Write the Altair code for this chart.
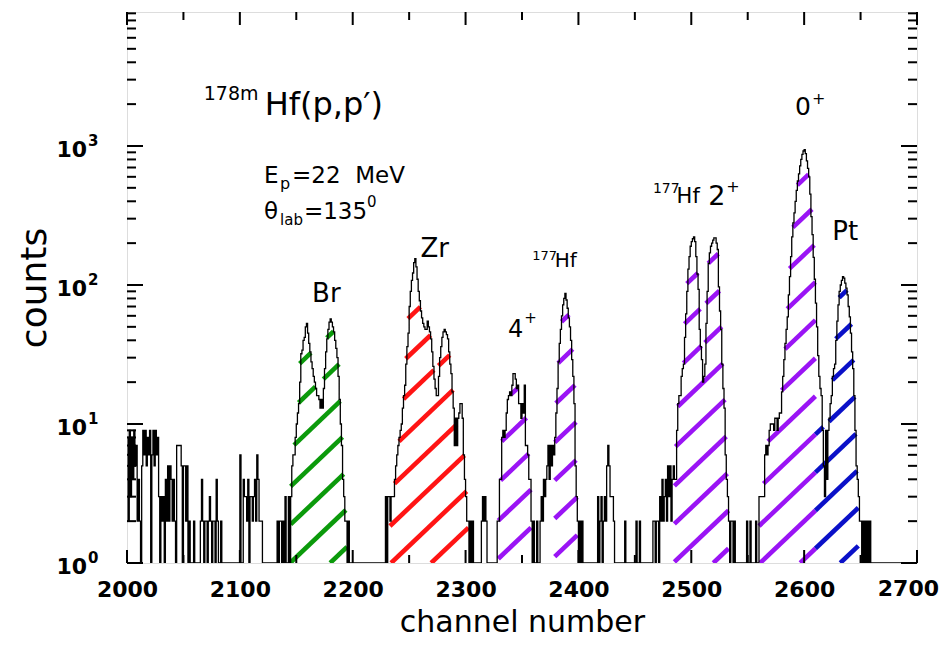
import altair as alt
import pandas as pd
import numpy as np

# ---------------- spectrum: counts per channel (empty channels sit on the 10^0 floor)
noise_start = 2000
noise_counts = [8, 2, 9, 3, 8, 4, 9, 5, 7, 2, 4, 2, 1,
                5, 9, 6, 9, 5, 8, 6, 9, 1, 6, 9, 5, 9, 6, 8,
                3, 1, 3, 2, 3, 1, 4, 2, 5, 2, 5, 4, 2, 4, 2, 1,
                7, 7, 7, 7, 5, 1, 5, 5, 2, 5, 1, 2, 1, 1, 1, 2, 1, 1, 1, 1, 1,
                2, 4, 2, 1, 2, 2, 1, 2, 3, 2, 1, 2, 2, 1, 4, 2, 1, 1, 2,
                1, 1, 1, 1, 1, 1, 1, 1, 1, 1, 1, 1, 1, 1, 1, 1,
                6, 1, 1, 4, 3, 3, 2, 4, 1, 3, 3, 2, 3, 4, 2, 6, 4, 2, 2, 2, 1,
                1, 1, 1, 1, 1, 1, 1, 1, 1, 1, 1, 1,
                2, 1, 2, 2, 1, 2, 1, 3, 1, 1, 3, 1]
br_start = 2145
br_counts = [3, 5, 6, 6, 8, 10, 12, 14, 20, 32, 34, 40, 42, 50, 53, 45, 38, 33, 28, 25,
             22, 20, 18, 16, 16, 15, 13, 15, 13, 18, 25, 33, 41, 48, 54, 57, 54, 50, 46, 40,
             35, 30, 22, 15, 10, 7, 4, 3, 2, 2, 1, 2, 1, 1, 1]
zr_start = 2228
zr_counts = [1, 3, 1, 3, 3, 2, 3, 3, 3, 4, 5, 6, 7, 8, 9, 10, 13, 16, 19, 27,
             36, 45, 70, 90, 108, 122, 145, 155, 135, 110, 90, 77, 65, 58, 53, 50, 48, 48, 55, 50,
             46, 41, 33, 26, 21, 18, 16, 16, 22, 30, 36, 42, 46, 48, 46, 44, 41, 33, 27, 23,
             17, 13, 7, 11, 7, 11, 12, 14, 14, 11, 6, 4, 3, 2, 2, 1, 2, 1, 2, 1]
gap2_start = 2308
gap2_counts = [1, 1, 1, 1, 1, 1, 2, 3, 2, 3, 2, 1, 1, 1, 1, 1, 1, 1, 1, 1, 2]
four_start = 2329
four_counts = [2, 4, 4, 8, 9, 8, 9, 12, 15, 16, 17, 16, 19, 23, 23, 21, 18, 19, 14, 14,
               11, 14, 12, 19, 7, 7, 6, 4, 4, 2, 1, 2, 1, 1]
hf177_start = 2363
hf177_counts = [2, 1, 1, 2, 3, 2, 4, 3, 4, 5, 7, 4, 7, 5, 7, 6, 8, 12, 18, 28,
                38, 48, 60, 72, 80, 87, 78, 68, 58, 50, 40, 29, 22, 14, 5, 3, 2, 1, 2, 1,
                2, 1, 1]
gap3_start = 2406
gap3_counts = [1, 1, 1, 1, 1, 1, 1, 1, 1, 1, 1,
               3, 1, 2, 3, 1, 2, 3, 2, 5, 7, 5, 3, 3, 3, 2,
               1, 1, 1, 1, 1, 1, 1, 1, 1, 2, 1, 1, 1, 1, 1, 1, 1, 1, 1, 2, 1, 1, 2,
               1, 1, 1, 1, 1, 1, 1, 1, 1, 1, 1, 2, 2, 1, 2]
two_start = 2470
two_counts = [2, 1, 3, 2, 4, 2, 3, 4, 2, 5, 3, 5, 2, 4, 5, 4, 4, 9, 14, 16,
              16, 22, 25, 27, 42, 62, 90, 130, 160, 190, 205, 215, 222, 205, 160, 120, 93, 48, 36, 29,
              20, 22, 27, 53, 90, 143, 170, 190, 200, 210, 218, 218, 200, 180, 97, 65, 48, 27, 18, 13,
              6, 4, 3, 2, 1, 2, 2, 1, 2, 1]
gap4_start = 2540
gap4_counts = [1, 1, 1, 1, 1, 1, 1, 1, 1, 2, 1, 1, 2, 1, 1, 1, 1, 2, 1]
zero_start = 2559
zero_counts = [1, 3, 3, 3, 3, 3, 6, 7, 6, 7, 9, 10, 10, 10, 9, 11, 11, 9, 11, 12,
               12, 17, 22, 29, 38, 48, 59, 85, 115, 160, 222, 280, 330, 400, 480, 560, 630, 720, 800, 870,
               920, 940, 880, 780, 690, 600, 450, 310, 230, 158, 110, 74, 50, 31, 22, 18, 16, 9, 5, 3]
pt_start = 2619
pt_counts = [9, 4, 9, 11, 14, 16, 22, 25, 27, 40, 55, 72, 90, 100, 108, 115, 112, 103, 95, 85,
             70, 59, 45, 33, 25, 16, 9, 5, 4, 3, 2, 2, 1, 2, 1, 2, 1, 2, 1, 2, 1]

segments = [(noise_start, noise_counts), (br_start, br_counts), (zr_start, zr_counts),
            (gap2_start, gap2_counts), (four_start, four_counts), (hf177_start, hf177_counts),
            (gap3_start, gap3_counts), (two_start, two_counts), (gap4_start, gap4_counts),
            (zero_start, zero_counts), (pt_start, pt_counts)]

# hatched peak regions: name, first channel, last channel, baseline crossing of one hatch line
hatch_names = ["Br", "Zr", "4+", "177Hf", "2+", "0+", "Pt"]
hatch_lo = [2145, 2233, 2329, 2379, 2485, 2560, 2610]
hatch_hi = [2195, 2305, 2358, 2399, 2533, 2610, 2648]
hatch_phase = [2180, 2234, 2325, 2373, 2484, 2561, 2561]
hatch_colors = ["#0b9a0b", "#ff1414", "#9a14f5", "#9a14f5", "#9a14f5", "#9a14f5", "#0a10c8"]

# axis ticks and labels
x_major = [2000, 2100, 2200, 2300, 2400, 2500, 2600, 2700]
x_label_values = [2000, 2100, 2200, 2300, 2400, 2500, 2600]
x_edge_label = [2700]
x_minor = [2050, 2150, 2250, 2350, 2450, 2550, 2650]
y_major = [1, 10, 100, 1000]
y_exponent = ["0", "1", "2", "3"]
y_minor = [2, 3, 4, 5, 6, 7, 8, 9, 20, 30, 40, 50, 60, 70, 80, 90,
           200, 300, 400, 500, 600, 700, 800, 900, 2000, 3000, 4000, 5000, 6000, 7000, 8000, 9000]

# text labels: text, channel, counts, font size
label_text = ["178m", "Hf(p,p\u2032)", "E", "p", "=22\u00a0\u00a0MeV", "\u03b8", "lab", "=135", "0",
              "Br", "Zr", "177", "Hf", "4", "+", "177", "Hf", "2", "+", "0", "+", "Pt"]
label_ch = [2068, 2122, 2121.4, 2135.6, 2146.2, 2121.4, 2135.6, 2156.8, 2212.7,
            2164, 2260, 2359, 2379, 2337.6, 2352, 2466, 2487, 2515, 2531, 2592, 2607, 2625]
label_cnt = [2143, 1671, 542, 491, 542, 298, 270, 298, 364,
             75.5, 159, 151, 135, 42.3, 53.3, 459, 389, 376, 467, 1671, 2005, 211]
label_size = [19, 32, 23, 16, 23, 23, 15, 23, 15,
              26, 26, 13, 20, 24, 15, 14, 21, 27, 16, 25, 16, 26]

# ---------------- build tables
W, H = 790, 551
X0, X1 = 2000, 2700
YMAX = 9200
PXCH = W / (X1 - X0)
DEC = H / np.log10(YMAX)

cnt = {}
for start, vals in segments:
    for i, v in enumerate(vals):
        cnt[start + i] = v
chans = list(range(X0, X1 + 1))
spec = pd.DataFrame({"ch": chans, "cnt": [max(cnt.get(c, 1), 1) for c in chans]})

SLOPE = 0.95
SPACING = 35.5


def env(c):
    i = int(np.floor(c))
    return max(cnt.get(i - 1, 1), cnt.get(i, 1), cnt.get(i + 1, 1)) * 0.9


rows = []
for name, lo, hi, ph in zip(hatch_names, hatch_lo, hatch_hi, hatch_phase):
    xs = np.arange(lo, hi + 1e-9, 0.05)
    envs = np.array([env(c) for c in xs])
    kmin = int(np.floor((lo - 420 - ph) / SPACING))
    kmax = int(np.ceil((hi - ph) / SPACING))
    for k in range(kmin, kmax + 1):
        ck = ph + k * SPACING
        h = SLOPE * (xs - ck) * PXCH
        ok = (h >= 0) & (10 ** (h / DEC) <= envs)
        i = 0
        n = len(xs)
        while i < n:
            if ok[i]:
                j = i
                while j + 1 < n and ok[j + 1]:
                    j += 1
                dx = (xs[j] - xs[i]) * PXCH
                if dx * np.sqrt(1 + SLOPE ** 2) >= 9:
                    rows.append({"ch": xs[i], "ch2": xs[j],
                                 "cnt": 10 ** (h[i] / DEC), "cnt2": 10 ** (h[j] / DEC),
                                 "region": name})
                i = j + 1
            else:
                i += 1
hatch = pd.DataFrame(rows)

labels = pd.DataFrame({"t": label_text, "ch": label_ch, "cnt": label_cnt, "fs": label_size})
ylab = pd.DataFrame({"cnt": y_major, "base": ["10"] * len(y_major), "exp": y_exponent})
xedge = pd.DataFrame({"ch": x_edge_label, "t": [str(v) for v in x_edge_label]})

# ---------------- encodings
FONT = "DejaVu Sans"
xsc = alt.Scale(domain=[X0, X1], nice=False, zero=False)
ysc = alt.Scale(type="log", domain=[1, YMAX], nice=False)
xax = alt.Axis(values=x_label_values, format="d", labelFont=FONT, labelFontSize=22, labelFontWeight="bold",
               labelColor="black", ticks=False, tickSize=0, domain=False, grid=False,
               labelPadding=16, labelFlush=False, labelOverlap=False,
               titleFont=FONT, titleFontSize=30, titleFontWeight="normal", titleColor="black",
               titlePadding=7)
yax = alt.Axis(values=y_major, labels=False, ticks=False, tickSize=0, domain=False, grid=False,
               titleFont=FONT, titleFontSize=36, titleFontWeight="normal", titleColor="black",
               titlePadding=74)


def X(f="ch"):
    return alt.X(f"{f}:Q", scale=xsc, axis=xax, title="channel number")


def Y(f="cnt"):
    return alt.Y(f"{f}:Q", scale=ysc, axis=yax, title="counts")


hatch_layer = alt.Chart(hatch).mark_rule(strokeWidth=4.6, strokeCap="butt", clip=True).encode(
    x=X(), x2="ch2:Q", y=Y(), y2="cnt2:Q",
    color=alt.Color("region:N", scale=alt.Scale(domain=hatch_names, range=hatch_colors), legend=None),
)

line_layer = alt.Chart(spec).mark_line(interpolate="step-after", color="black", strokeWidth=1.3,
                                       clip=True).encode(x=X(), y=Y())

xmaj = pd.DataFrame({"ch": x_major})
xmin = pd.DataFrame({"ch": x_minor})
ymaj = pd.DataFrame({"cnt": y_major})
ymin = pd.DataFrame({"cnt": y_minor})
TK = dict(color="black", strokeWidth=2)
ticks = [
    alt.Chart(xmaj).mark_rule(**TK).encode(x=X(), y=alt.value(H), y2=alt.value(H - 13)),
    alt.Chart(xmin).mark_rule(**TK).encode(x=X(), y=alt.value(H), y2=alt.value(H - 8)),
    alt.Chart(xmaj).mark_rule(**TK).encode(x=X(), y=alt.value(0), y2=alt.value(13)),
    alt.Chart(xmin).mark_rule(**TK).encode(x=X(), y=alt.value(0), y2=alt.value(8)),
    alt.Chart(ymaj).mark_rule(**TK).encode(y=Y(), x=alt.value(0), x2=alt.value(16)),
    alt.Chart(ymin).mark_rule(**TK).encode(y=Y(), x=alt.value(0), x2=alt.value(9)),
    alt.Chart(ymaj).mark_rule(**TK).encode(y=Y(), x=alt.value(W), x2=alt.value(W - 16)),
    alt.Chart(ymin).mark_rule(**TK).encode(y=Y(), x=alt.value(W), x2=alt.value(W - 9)),
]

ybase_layer = alt.Chart(ylab).mark_text(align="right", baseline="middle", dy=4, font=FONT,
                                        fontSize=22, fontWeight="bold", color="black").encode(
    y=Y(), x=alt.value(-40), text="base:N")
yexp_layer = alt.Chart(ylab).mark_text(align="left", baseline="middle", dy=-5, font=FONT,
                                       fontSize=15, fontWeight="bold", color="black").encode(
    y=Y(), x=alt.value(-39), text="exp:N")
xedge_layer = alt.Chart(xedge).mark_text(align="right", baseline="top", dx=22, font=FONT,
                                         fontSize=22, fontWeight="bold", color="black").encode(
    x=X(), y=alt.value(H + 16), text="t:N")

text_layer = alt.Chart(labels).mark_text(align="left", baseline="alphabetic", font=FONT,
                                         color="black").encode(
    x=X(), y=Y(), text="t:N", size=alt.Size("fs:Q", scale=None, legend=None))

chart = alt.layer(hatch_layer, line_layer, *ticks, ybase_layer, yexp_layer, xedge_layer,
                  text_layer).properties(
    width=W, height=H,
    autosize=alt.AutoSizeParams(type="none"),
    padding={"left": 119, "top": 4, "right": 22, "bottom": 80},
).configure_view(stroke="black", strokeWidth=2.5).configure(background="white")

chart.save("out.html", embed_options={"renderer": "svg", "actions": False})
